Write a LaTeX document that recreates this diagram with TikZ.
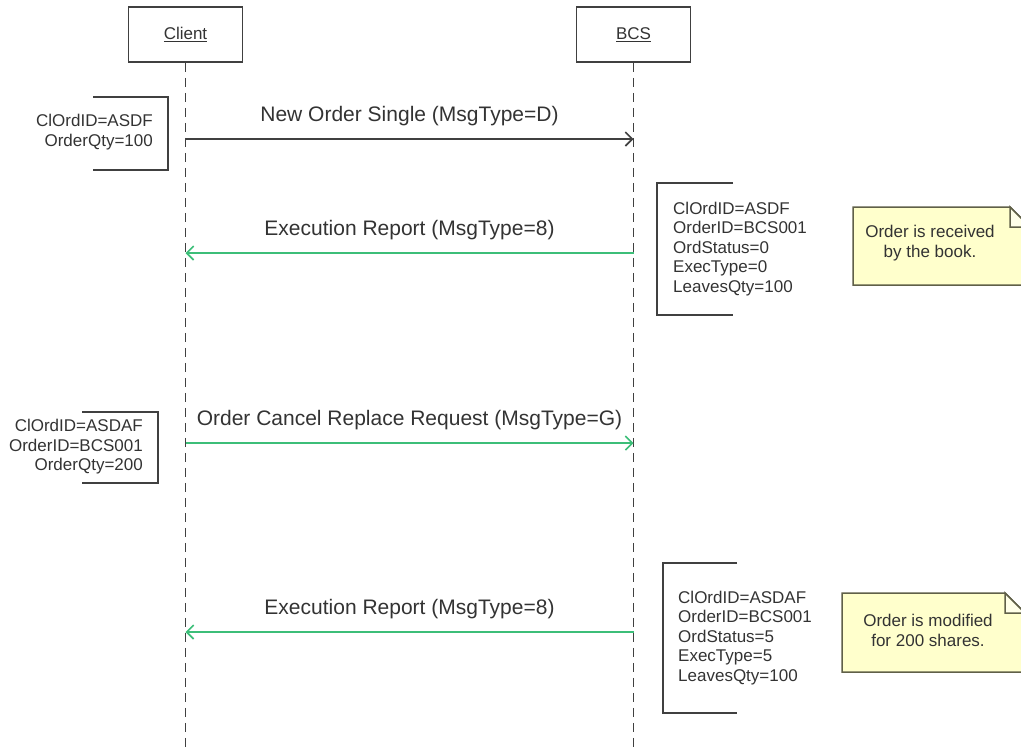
\documentclass[tikz,border=0pt]{standalone}
\usepackage{fontspec}
\setmainfont{Liberation Sans}
\usetikzlibrary{arrows.meta}
\definecolor{ink}{RGB}{51,51,51}
\definecolor{wire}{RGB}{64,64,64}
\definecolor{msggreen}{RGB}{60,190,120}
\definecolor{notefill}{RGB}{255,255,204}
\definecolor{noteedge}{RGB}{96,96,72}
\definecolor{foldfill}{RGB}{255,255,232}

\begin{document}
\begin{tikzpicture}[x=1pt,y=-1pt,
  actor/.style={draw=wire, line width=1.5pt, fill=white, minimum width=114pt,
    minimum height=55pt, font=\fontsize{17}{20}\selectfont, text=ink},
  lifeline/.style={draw=wire, line width=1.3pt, dash pattern=on 9pt off 6pt},
  msg/.style={line width=1.6pt, -{Straight Barb[length=7pt,width=14pt]}},
  msglabel/.style={font=\fontsize{21}{25}\selectfont, text=ink, anchor=base, yshift=18pt},
  info/.style={font=\fontsize{17}{19.5}\selectfont, text=ink, inner sep=0pt},
  bracket/.style={draw=wire, line width=1.5pt},
  note/.style={draw=noteedge, fill=notefill, line width=1.5pt, line join=miter},
  fold/.style={draw=noteedge, fill=foldfill, line width=1.5pt},
  notetext/.style={font=\fontsize{17}{20}\selectfont, text=ink, align=center, inner sep=0pt}
]
\useasboundingbox (0,0) rectangle (1021,748);

% participants
\node[actor] (client) at (185.5,34.5) {\underline{Client}};
\node[actor] (bcs) at (633.5,34.5) {\underline{BCS}};

% lifelines
\coordinate (clientEnd) at (client.south |- 0,752);
\coordinate (bcsEnd) at (bcs.south |- 0,752);
\draw[lifeline] (client.south) -- (clientEnd);
\draw[lifeline] (bcs.south) -- (bcsEnd);

% message anchor points on the lifelines
\coordinate (m1c) at (client.south |- 0,139);
\coordinate (m1b) at (bcs.south |- 0,139);
\coordinate (m2c) at (client.south |- 0,253);
\coordinate (m2b) at (bcs.south |- 0,253);
\coordinate (m3c) at (client.south |- 0,443);
\coordinate (m3b) at (bcs.south |- 0,443);
\coordinate (m4c) at (client.south |- 0,632);
\coordinate (m4b) at (bcs.south |- 0,632);

% messages
\draw[msg, draw=wire] (m1c) -- (m1b)
  node[msglabel, midway] (l1) {New Order Single (MsgType=D)};
\draw[msg, draw=msggreen] (m2b) -- (m2c)
  node[msglabel, midway] (l2) {Execution Report (MsgType=8)};
\draw[msg, draw=msggreen] (m3c) -- (m3b)
  node[msglabel, midway] (l3) {Order Cancel Replace Request (MsgType=G)};
\draw[msg, draw=msggreen] (m4b) -- (m4c)
  node[msglabel, midway] (l4) {Execution Report (MsgType=8)};

% field comments on the client side
\draw[bracket] (93,97) -- (168,97) -- (168,170) -- (93,170);
\node[info, align=right, anchor=east] (c1) at (153,132)
  {ClOrdID=ASDF\\OrderQty=100};
\draw[bracket] (82,412) -- (158,412) -- (158,483) -- (82,483);
\node[info, align=right, anchor=east] (c2) at (143,447)
  {ClOrdID=ASDAF\\OrderID=BCS001\\OrderQty=200};

% field comments on the BCS side
\draw[bracket] (733,183) -- (657,183) -- (657,315) -- (733,315);
\node[info, align=left, anchor=west] (b1) at (673,249)
  {ClOrdID=ASDF\\OrderID=BCS001\\OrdStatus=0\\ExecType=0\\LeavesQty=100};
\draw[bracket] (737,563) -- (663,563) -- (663,713) -- (737,713);
\node[info, align=left, anchor=west] (b2) at (678,638)
  {ClOrdID=ASDAF\\OrderID=BCS001\\OrdStatus=5\\ExecType=5\\LeavesQty=100};

% notes
\draw[note] (853,207) -- (1010,207) -- (1030,227) -- (1030,285) -- (853,285) -- cycle;
\draw[fold] (1010,207) -- (1010,227) -- (1030,227) -- cycle;
\node[notetext] (n1) at (930,243) {Order is received\\by the book.};

\draw[note] (842,593) -- (1005,593) -- (1025,613) -- (1025,672) -- (842,672) -- cycle;
\draw[fold] (1005,593) -- (1005,613) -- (1025,613) -- cycle;
\node[notetext] (n2) at (928,630) {Order is modified\\for 200 shares.};
\end{tikzpicture}
\end{document}
